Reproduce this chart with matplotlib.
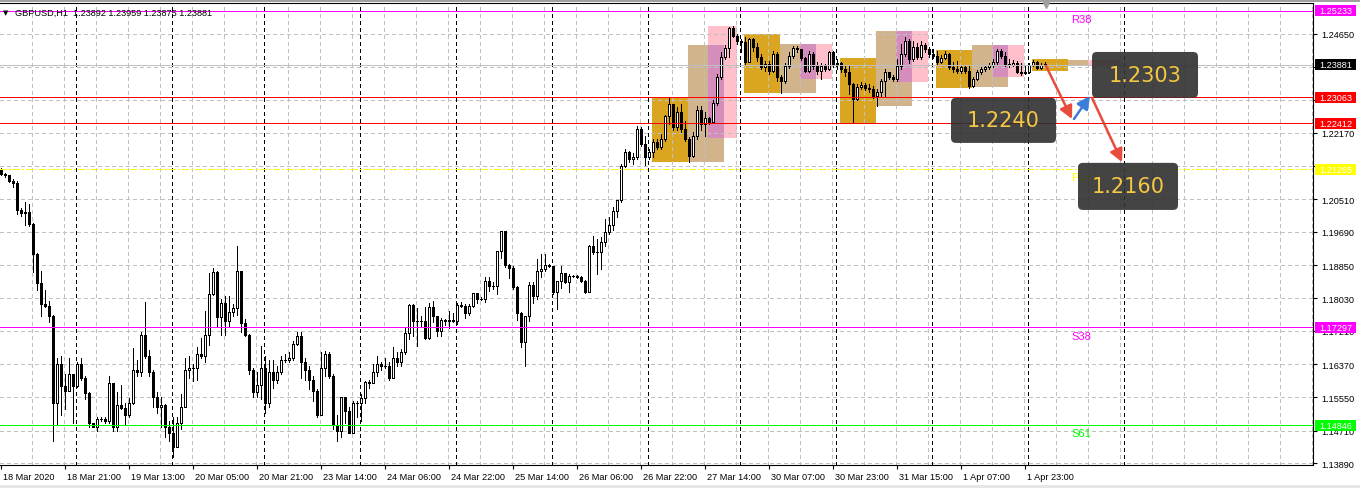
import numpy as np
import matplotlib
matplotlib.use('Agg')
import matplotlib.pyplot as plt
from matplotlib.patches import Rectangle, FancyBboxPatch
from matplotlib import transforms

plt.rcParams['font.family'] = ['Liberation Sans', 'DejaVu Sans']

# ---- data (GBPUSD H1) ----
first_open = 1.2124
closes = [
    1.2114, 1.2111, 1.2096, 1.2091, 1.2023, 1.2016, 1.2018, 1.1988, 1.1913, 1.1840,
    1.1788, 1.1782, 1.1757, 1.1541, 1.1637, 1.1582, 1.1569, 1.1614, 1.1582, 1.1639,
    1.1604, 1.1564, 1.1489, 1.1481, 1.1501, 1.1501, 1.1496, 1.1589, 1.1481, 1.1534,
    1.1527, 1.1509, 1.1539, 1.1622, 1.1617, 1.1710, 1.1657, 1.1619, 1.1554, 1.1529,
    1.1534, 1.1481, 1.1464, 1.1431, 1.1489, 1.1529, 1.1622, 1.1627, 1.1627, 1.1664,
    1.1657, 1.1710, 1.1813, 1.1868, 1.1755, 1.1790, 1.1745, 1.1767, 1.1777, 1.1870,
    1.1740, 1.1710, 1.1622, 1.1567, 1.1584, 1.1627, 1.1541, 1.1617, 1.1597, 1.1619,
    1.1649, 1.1649, 1.1652, 1.1687, 1.1707, 1.1642, 1.1622, 1.1597, 1.1569, 1.1511,
    1.1629, 1.1664, 1.1609, 1.1484, 1.1471, 1.1554, 1.1519, 1.1466, 1.1541, 1.1539,
    1.1552, 1.1592, 1.1589, 1.1619, 1.1639, 1.1634, 1.1634, 1.1604, 1.1654, 1.1642,
    1.1667, 1.1715, 1.1785, 1.1745, 1.1745, 1.1745, 1.1702, 1.1780, 1.1757, 1.1720,
    1.1747, 1.1745, 1.1747, 1.1745, 1.1785, 1.1782, 1.1765, 1.1782, 1.1815, 1.1800,
    1.1800, 1.1845, 1.1833, 1.1833, 1.1920, 1.1971, 1.1885, 1.1878, 1.1830, 1.1765,
    1.1692, 1.1757, 1.1835, 1.1808, 1.1870, 1.1875, 1.1885, 1.1883, 1.1818, 1.1845,
    1.1865, 1.1843, 1.1858, 1.1858, 1.1855, 1.1845, 1.1818, 1.1933, 1.1918, 1.1918,
    1.1943, 1.1968, 1.1986, 1.2021, 1.2048, 1.2134, 1.2169, 1.2151, 1.2156, 1.2227,
    1.2189, 1.2156, 1.2169, 1.2194, 1.2182, 1.2202, 1.2259, 1.2289, 1.2232, 1.2269,
    1.2227, 1.2202, 1.2159, 1.2209, 1.2274, 1.2239, 1.2254, 1.2244, 1.2292, 1.2357,
    1.2407, 1.2430, 1.2480, 1.2460, 1.2448, 1.2445, 1.2395, 1.2453, 1.2433, 1.2407,
    1.2382, 1.2390, 1.2372, 1.2415, 1.2357, 1.2347, 1.2385, 1.2410, 1.2430, 1.2428,
    1.2405, 1.2372, 1.2415, 1.2385, 1.2372, 1.2385, 1.2377, 1.2420, 1.2390, 1.2392,
    1.2377, 1.2370, 1.2340, 1.2302, 1.2332, 1.2337, 1.2330, 1.2327, 1.2310, 1.2320,
    1.2347, 1.2370, 1.2357, 1.2352, 1.2385, 1.2415, 1.2448, 1.2402, 1.2433, 1.2407,
    1.2438, 1.2428, 1.2415, 1.2410, 1.2395, 1.2405, 1.2415, 1.2382, 1.2377, 1.2372,
    1.2382, 1.2372, 1.2335, 1.2352, 1.2370, 1.2377, 1.2382, 1.2387, 1.2395, 1.2422,
    1.2410, 1.2390, 1.2387, 1.2392, 1.2370, 1.2367, 1.2370, 1.2387, 1.2395, 1.2380,
    1.2387, 1.23881,
]
highs = [
    1.2129, 1.2116, 1.2111, 1.2101, 1.2096, 1.2028, 1.2043, 1.2038, 1.1991, 1.1915,
    1.1870, 1.1823, 1.1795, 1.1760, 1.1652, 1.1659, 1.1612, 1.1652, 1.1614, 1.1642,
    1.1652, 1.1607, 1.1567, 1.1491, 1.1506, 1.1504, 1.1504, 1.1607, 1.1589, 1.1567,
    1.1584, 1.1541, 1.1552, 1.1677, 1.1647, 1.1717, 1.1793, 1.1672, 1.1622, 1.1567,
    1.1554, 1.1537, 1.1494, 1.1504, 1.1504, 1.1562, 1.1654, 1.1657, 1.1639, 1.1680,
    1.1702, 1.1770, 1.1865, 1.1878, 1.1870, 1.1800, 1.1808, 1.1808, 1.1788, 1.1933,
    1.1870, 1.1750, 1.1712, 1.1627, 1.1617, 1.1682, 1.1657, 1.1649, 1.1649, 1.1634,
    1.1657, 1.1662, 1.1667, 1.1695, 1.1717, 1.1717, 1.1652, 1.1632, 1.1607, 1.1574,
    1.1667, 1.1670, 1.1667, 1.1612, 1.1511, 1.1554, 1.1554, 1.1529, 1.1544, 1.1544,
    1.1562, 1.1594, 1.1599, 1.1637, 1.1657, 1.1644, 1.1652, 1.1642, 1.1680, 1.1667,
    1.1675, 1.1727, 1.1788, 1.1788, 1.1777, 1.1757, 1.1780, 1.1790, 1.1795, 1.1757,
    1.1752, 1.1750, 1.1770, 1.1765, 1.1790, 1.1793, 1.1788, 1.1788, 1.1815, 1.1815,
    1.1805, 1.1855, 1.1855, 1.1843, 1.1920, 1.1971, 1.1971, 1.1888, 1.1883, 1.1833,
    1.1767, 1.1757, 1.1843, 1.1843, 1.1900, 1.1913, 1.1913, 1.1888, 1.1883, 1.1845,
    1.1883, 1.1865, 1.1863, 1.1860, 1.1860, 1.1858, 1.1848, 1.1936, 1.1958, 1.1951,
    1.1956, 1.2001, 1.2006, 1.2031, 1.2048, 1.2139, 1.2177, 1.2172, 1.2166, 1.2234,
    1.2232, 1.2209, 1.2177, 1.2202, 1.2202, 1.2214, 1.2262, 1.2305, 1.2289, 1.2282,
    1.2289, 1.2247, 1.2207, 1.2219, 1.2284, 1.2284, 1.2269, 1.2257, 1.2300, 1.2365,
    1.2420, 1.2438, 1.2483, 1.2485, 1.2465, 1.2453, 1.2458, 1.2455, 1.2455, 1.2443,
    1.2415, 1.2397, 1.2397, 1.2422, 1.2420, 1.2362, 1.2392, 1.2420, 1.2435, 1.2435,
    1.2428, 1.2407, 1.2422, 1.2420, 1.2395, 1.2392, 1.2390, 1.2422, 1.2422, 1.2402,
    1.2395, 1.2387, 1.2387, 1.2342, 1.2340, 1.2345, 1.2342, 1.2340, 1.2335, 1.2327,
    1.2352, 1.2377, 1.2370, 1.2362, 1.2402, 1.2440, 1.2458, 1.2453, 1.2448, 1.2443,
    1.2448, 1.2443, 1.2433, 1.2428, 1.2422, 1.2412, 1.2422, 1.2417, 1.2395, 1.2397,
    1.2387, 1.2387, 1.2385, 1.2357, 1.2375, 1.2382, 1.2387, 1.2392, 1.2402, 1.2428,
    1.2428, 1.2420, 1.2402, 1.2400, 1.2397, 1.2392, 1.2387, 1.2392, 1.2400, 1.2397,
    1.2392, 1.23959,
]
lows = [
    1.2111, 1.2106, 1.2094, 1.2081, 1.2013, 1.2008, 1.1986, 1.1983, 1.1868, 1.1823,
    1.1757, 1.1780, 1.1742, 1.1446, 1.1486, 1.1509, 1.1524, 1.1569, 1.1491, 1.1579,
    1.1599, 1.1549, 1.1481, 1.1479, 1.1469, 1.1496, 1.1491, 1.1491, 1.1471, 1.1471,
    1.1524, 1.1484, 1.1506, 1.1537, 1.1609, 1.1609, 1.1652, 1.1609, 1.1529, 1.1516,
    1.1481, 1.1456, 1.1444, 1.1406, 1.1431, 1.1476, 1.1529, 1.1604, 1.1594, 1.1599,
    1.1654, 1.1642, 1.1685, 1.1810, 1.1732, 1.1710, 1.1710, 1.1732, 1.1757, 1.1760,
    1.1717, 1.1707, 1.1612, 1.1554, 1.1554, 1.1549, 1.1516, 1.1529, 1.1577, 1.1589,
    1.1614, 1.1642, 1.1644, 1.1649, 1.1685, 1.1602, 1.1599, 1.1574, 1.1546, 1.1504,
    1.1511, 1.1607, 1.1604, 1.1476, 1.1444, 1.1454, 1.1491, 1.1464, 1.1466, 1.1504,
    1.1494, 1.1541, 1.1577, 1.1589, 1.1609, 1.1622, 1.1627, 1.1599, 1.1604, 1.1632,
    1.1632, 1.1664, 1.1700, 1.1707, 1.1682, 1.1732, 1.1700, 1.1700, 1.1742, 1.1707,
    1.1707, 1.1735, 1.1727, 1.1742, 1.1737, 1.1780, 1.1752, 1.1760, 1.1780, 1.1790,
    1.1798, 1.1793, 1.1820, 1.1825, 1.1813, 1.1903, 1.1880, 1.1853, 1.1825, 1.1747,
    1.1680, 1.1634, 1.1745, 1.1790, 1.1800, 1.1855, 1.1870, 1.1880, 1.1813, 1.1775,
    1.1828, 1.1840, 1.1818, 1.1855, 1.1853, 1.1843, 1.1815, 1.1818, 1.1913, 1.1863,
    1.1875, 1.1933, 1.1963, 1.1973, 1.2006, 1.2043, 1.2131, 1.2144, 1.2139, 1.2151,
    1.2184, 1.2136, 1.2151, 1.2156, 1.2177, 1.2177, 1.2197, 1.2239, 1.2224, 1.2224,
    1.2219, 1.2197, 1.2144, 1.2156, 1.2202, 1.2224, 1.2209, 1.2239, 1.2242, 1.2287,
    1.2352, 1.2402, 1.2407, 1.2458, 1.2440, 1.2420, 1.2390, 1.2395, 1.2422, 1.2397,
    1.2377, 1.2372, 1.2365, 1.2370, 1.2347, 1.2317, 1.2342, 1.2380, 1.2405, 1.2420,
    1.2400, 1.2370, 1.2370, 1.2377, 1.2365, 1.2352, 1.2372, 1.2375, 1.2382, 1.2377,
    1.2370, 1.2360, 1.2315, 1.2242, 1.2300, 1.2327, 1.2325, 1.2320, 1.2305, 1.2284,
    1.2310, 1.2310, 1.2352, 1.2347, 1.2347, 1.2377, 1.2410, 1.2392, 1.2397, 1.2402,
    1.2402, 1.2420, 1.2407, 1.2405, 1.2387, 1.2392, 1.2402, 1.2377, 1.2370, 1.2367,
    1.2367, 1.2367, 1.2330, 1.2332, 1.2350, 1.2365, 1.2372, 1.2377, 1.2382, 1.2387,
    1.2405, 1.2385, 1.2382, 1.2385, 1.2367, 1.2362, 1.2365, 1.2367, 1.2385, 1.2377,
    1.2377, 1.23875,
]
last_open = 1.23892
header = 'GBPUSD,H1  1.23892 1.23959 1.23875 1.23881'

time_labels = ['18 Mar 2020', '18 Mar 21:00', '19 Mar 13:00', '20 Mar 05:00', '20 Mar 21:00',
               '23 Mar 14:00', '24 Mar 06:00', '24 Mar 22:00', '25 Mar 14:00', '26 Mar 06:00',
               '26 Mar 22:00', '27 Mar 14:00', '30 Mar 07:00', '30 Mar 23:00', '31 Mar 15:00',
               '1 Apr 07:00', '1 Apr 23:00']
day_starts = [19, 43, 66, 90, 114, 138, 162, 185, 209, 233, 257, 281]

price_ticks = [1.13890, 1.14710, 1.15550, 1.16370, 1.17210, 1.18030, 1.18850,
               1.19690, 1.20510, 1.21330, 1.22170, 1.22990, 1.23830, 1.24650]
# tick labels that sit completely under a coloured price tag
covered_ticks = [1.21330, 1.22990, 1.23830]

level_names = ['R38', 'Pivot', 'S38', 'S61']
level_prices = [1.25233, 1.21265, 1.17297, 1.14846]
level_colors = ['#FF00FF', '#FFFF00', '#FF00FF', '#00FF00']
red_levels = [1.23063, 1.22412]
bid = 1.23881

# session boxes (bar index from/to, high, low)
asia_from = [162.75, 185.75, 209.75, 233.75, 257.75]
asia_to = [171.75, 194.75, 218.75, 242.75, 266.75]
asia_hi = [1.2306, 1.2465, 1.2405, 1.2426, 1.2402]
asia_lo = [1.2144, 1.2317, 1.2242, 1.2330, 1.2373]
london_from = [171.75, 194.75, 218.75, 242.75, 266.75]
london_to = [180.75, 203.75, 227.75, 251.75, 271.75]
london_hi = [1.2438, 1.2440, 1.2472, 1.2438, 1.2400]
london_lo = [1.2144, 1.2317, 1.2285, 1.2333, 1.2387]
ny_from = [176.75, 199.75, 223.75, 248.0, 271.75]
ny_to = [184.0, 207.75, 231.75, 255.75, 279.75]
ny_hi = [1.2485, 1.2440, 1.2472, 1.2438, 1.2400]
ny_lo = [1.2204, 1.2352, 1.2345, 1.2356, 1.2387]

targets = ['1.2303', '1.2240', '1.2160']

# ---- figure ----
fig = plt.figure(figsize=(13.6, 4.89), dpi=100)
ax = fig.add_axes([0, 23 / 489, 1313 / 1360, 462 / 489])
ax.set_xlim(-0.25, 328)
ax.set_ylim(1.13847, 1.25427)
px = 0.0002506  # price per pixel
thin = 0.6      # about one pixel

for sp in ['top', 'right', 'bottom']:
    ax.spines[sp].set_linewidth(0.8)
ax.spines['left'].set_visible(False)

# sessions
for i in range(len(asia_from)):
    ax.add_patch(Rectangle((asia_from[i], asia_lo[i]), asia_to[i] - asia_from[i],
                           asia_hi[i] - asia_lo[i], fc='#DAA520', ec='none', zorder=1))
    ax.add_patch(Rectangle((london_from[i], london_lo[i]), london_to[i] - london_from[i],
                           london_hi[i] - london_lo[i], fc='#D2B48C', ec='none', zorder=1))
    ax.add_patch(Rectangle((ny_from[i], ny_lo[i]), ny_to[i] - ny_from[i],
                           ny_hi[i] - ny_lo[i], fc='#FFC0CB', ec='none', zorder=1))
    x0 = max(london_from[i], ny_from[i])
    x1 = min(london_to[i], ny_to[i])
    if x1 > x0:
        lo = max(london_lo[i], ny_lo[i])
        hi = min(london_hi[i], ny_hi[i])
        ax.add_patch(Rectangle((x0, lo), x1 - x0, hi - lo, fc='#D58DBC', ec='none', zorder=1.1))

# grid
for p in price_ticks:
    ax.axhline(p, color='#C0C0C0', lw=thin, ls=(0, (4, 4)), zorder=1.5, antialiased=False)
for k in range(1, 42):
    ax.axvline(8 * k - 0.25, color='#C0C0C0', lw=thin, ls=(0, (4, 4)), zorder=1.5,
               antialiased=False)
for d in day_starts:
    ax.axvline(d - 0.25, color='black', lw=thin, ls=(0, (4, 4)), zorder=1.6, antialiased=False)

# candles
c = np.array(closes)
o = np.array([first_open] + closes[:-1])
o[-1] = last_open
h = np.maximum(np.array(highs), np.maximum(o, c))
l = np.minimum(np.array(lows), np.minimum(o, c))
x = np.arange(len(c))
ax.vlines(x, l, h, color='black', lw=thin, zorder=3, antialiased=False)
up = c >= o
ax.bar(x[up], c[up] - o[up], bottom=o[up], width=0.5, color='white',
       edgecolor='black', linewidth=thin, zorder=3.1, antialiased=False)
ax.bar(x[~up], o[~up] - c[~up], bottom=c[~up], width=0.5, color='black',
       edgecolor='black', linewidth=thin, zorder=3.1, antialiased=False)

# levels
trans = transforms.blended_transform_factory(ax.transAxes, ax.transData)


def axis_label(price, bg):
    ax.add_patch(Rectangle((1315 / 1313, price - 5.5 * px), 41 / 1313, 11 * px,
                           transform=trans, fc=bg, ec='none', clip_on=False, zorder=5))
    ax.text(1335.5 / 1313, price, f'{price:.5f}', transform=trans, color='white',
            fontsize=6.6, ha='center', va='center', clip_on=False, zorder=5.1)


for name, p, col in zip(level_names, level_prices, level_colors):
    if name == 'Pivot':
        ax.axhline(p, color=col, lw=thin, ls=(0, (8, 2.5, 2, 2.5)), zorder=4,
                   antialiased=False)
    else:
        ax.axhline(p, color=col, lw=thin, zorder=4, antialiased=False)
    ax.annotate(name, (267.5, p), xytext=(0, -6), textcoords='offset points',
                color=col, fontsize=8, ha='left', va='center', zorder=4)
    axis_label(p, col)
for p in red_levels:
    ax.axhline(p, color='#FF0000', lw=thin, zorder=4, antialiased=False)
    axis_label(p, '#FF0000')
ax.axhline(bid, color='#C0C0C0', lw=thin, zorder=4, antialiased=False)
axis_label(bid, 'black')

# forecast callouts
boxes = [(272.75, 299.25, 1.2420, 1.2305),
         (237.5, 263.75, 1.2305, 1.2192),
         (269.25, 294.25, 1.2142, 1.2024)]
for t, (bx0, bx1, by1, by0) in zip(targets, boxes):
    ax.add_patch(FancyBboxPatch((bx0, by0), bx1 - bx0, by1 - by0,
                                boxstyle='round,pad=0,rounding_size=1.2',
                                mutation_aspect=px * 4, fc='#303030', ec='none',
                                alpha=0.9, zorder=6))
    ax.text((bx0 + bx1) / 2, (by0 + by1) / 2, t, color='#F4C842', fontsize=15,
            family='DejaVu Sans', ha='center', va='center', zorder=7)

arrows = [((261.25, 1.2385), (267.75, 1.2252), '#E74C3C'),
          ((268.25, 1.2252), (272.25, 1.2310), '#3B7DD8'),
          ((272.75, 1.2305), (280.25, 1.2144), '#E74C3C')]
for start, end, col in arrows:
    ax.annotate('', xy=end, xytext=start, zorder=8,
                arrowprops=dict(arrowstyle='-|>,head_length=0.55,head_width=0.28',
                                color=col, lw=1.8, mutation_scale=14,
                                shrinkA=0, shrinkB=0))

# axes ticks
ax.yaxis.tick_right()
ax.set_yticks(price_ticks)
ax.set_yticklabels(['' if p in covered_ticks else f'{p:.5f}' for p in price_ticks])
ax.tick_params(axis='y', length=3, width=0.8, labelsize=6.6, pad=3)
ax.set_xticks(range(0, 16 * len(time_labels), 16))
ax.set_xticklabels(time_labels)
ax.tick_params(axis='x', length=3, width=0.8, labelsize=6.6, pad=2)
shift = transforms.ScaledTranslation(2 / 100, 0, fig.dpi_scale_trans)
for lab in ax.get_xticklabels():
    lab.set_horizontalalignment('left')
    lab.set_transform(lab.get_transform() + shift)

# chart shift marker and header
ax.plot([261.25], [1.2538], marker='v', color='#A0A0A0', markersize=5,
        clip_on=False, zorder=5)
fig.text(3 / 1360, 1 - 13 / 489, '▼', fontsize=5, va='center', family='DejaVu Sans')
fig.text(15 / 1360, 1 - 13 / 489, header, fontsize=6.6, va='center')
fig.patches.append(Rectangle((0, 1 - 3 / 489), 1, 3 / 489, transform=fig.transFigure,
                             fc='#A0A0A0', ec='none'))
fig.patches.append(Rectangle((0, 0), 1, 3 / 489, transform=fig.transFigure,
                             fc='#E6E6E6', ec='none'))

fig.savefig('out.png', dpi=100)
